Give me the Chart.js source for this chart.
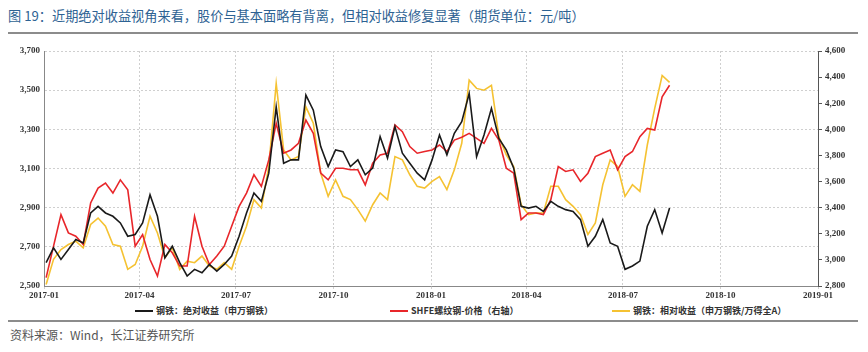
<!DOCTYPE html>
<html>
<head>
<meta charset="utf-8">
<script src="https://cdn.jsdelivr.net/npm/chart.js@4"></script>
<style>
  body { margin: 0; background: #fff; width: 868px; height: 352px; overflow: hidden; position: relative; font-family: "Noto Sans CJK SC", sans-serif; }
  #title { position: absolute; left: 8px; top: 6px; font-size: 13.2px; color: #2d6293; white-space: nowrap; }
  .rule { position: absolute; left: 8px; right: 10px; height: 2px; background: #8c8c8c; }
  #box { position: absolute; left: 0; top: 40px; width: 868px; height: 262px; }
  #src { position: absolute; left: 10px; top: 326px; font-size: 12px; color: #555; }
  .lg { position: absolute; top: 304px; height: 14px; font-size: 9px; font-weight: bold; color: #333; white-space: nowrap; line-height: 14px; }
  .lg i { display: inline-block; width: 18px; height: 2px; vertical-align: middle; margin-right: 3px; position: relative; top: -1px; }
</style>
</head>
<body>
<div id="title">图 19：近期绝对收益视角来看，股价与基本面略有背离，但相对收益修复显著（期货单位：元/吨）</div>
<div class="rule" style="top:32px"></div>
<div id="box"><canvas id="chart"></canvas></div>
<div id="legend"></div>
<div class="rule" style="top:320px"></div>
<div id="src">资料来源：Wind，长江证券研究所</div>

<script>
// weekly readings
const dates = [
  '2017-01-03','2017-01-10','2017-01-17','2017-01-24','2017-01-31','2017-02-07','2017-02-14','2017-02-21','2017-02-28','2017-03-07',
  '2017-03-14','2017-03-21','2017-03-28','2017-04-04','2017-04-11','2017-04-18','2017-04-25','2017-05-02','2017-05-09','2017-05-16',
  '2017-05-23','2017-05-30','2017-06-06','2017-06-13','2017-06-20','2017-06-27','2017-07-04','2017-07-11','2017-07-18','2017-07-25',
  '2017-08-01','2017-08-08','2017-08-15','2017-08-22','2017-08-29','2017-09-05','2017-09-12','2017-09-19','2017-09-26','2017-10-03',
  '2017-10-10','2017-10-17','2017-10-24','2017-10-31','2017-11-07','2017-11-14','2017-11-21','2017-11-28','2017-12-05','2017-12-12',
  '2017-12-19','2017-12-26','2018-01-02','2018-01-09','2018-01-16','2018-01-23','2018-01-30','2018-02-06','2018-02-13','2018-02-20',
  '2018-02-27','2018-03-06','2018-03-13','2018-03-20','2018-03-27','2018-04-03','2018-04-10','2018-04-17','2018-04-24','2018-05-01',
  '2018-05-08','2018-05-15','2018-05-22','2018-05-29','2018-06-05','2018-06-12','2018-06-19','2018-06-26','2018-07-03','2018-07-10',
  '2018-07-17','2018-07-24','2018-07-31','2018-08-07','2018-08-14'
];

// 钢铁：绝对收益（申万钢铁）
const absReturn = [
  2619,2695,2636,2686,2737,2720,2873,2907,2873,2856,2822,2754,2763,2822,2966,2856,2644,2703,2619,2551,
  2585,2568,2610,2576,2610,2653,2754,2873,2975,2932,3076,3415,3127,3144,3144,3475,3398,3212,3110,3195,
  3186,3110,3144,3068,3102,3263,3153,3314,3178,3127,3076,3042,3144,3271,3170,3280,3339,3483,3161,3271,
  3407,3254,3195,3102,2907,2898,2907,2881,2932,2907,2890,2881,2839,2703,2754,2839,2720,2703,2585,2602,
  2627,2805,2890,2771,2898
];

// SHFE螺纹钢-价格（右轴）
const rebar = [
  2864,3105,3347,3207,3181,3118,3436,3550,3588,3512,3613,3537,3105,3194,3003,2876,3118,3054,2953,2953,
  3334,3105,2965,3029,3105,3258,3410,3512,3652,3563,3766,4046,3817,3842,3893,4071,3969,3664,3613,3702,
  3702,3690,3690,3575,3741,3804,3817,4033,3982,3868,3817,3830,3842,3880,3830,3918,3939,3969,3931,3893,
  4007,3918,3702,3664,3308,3359,3359,3347,3461,3715,3677,3690,3601,3664,3791,3817,3842,3690,3791,3830,
  3944,4007,3995,4249,4338
];

// 钢铁：相对收益（申万钢铁/万得全A）
const relReturn = [
  2508,2636,2686,2712,2729,2695,2814,2847,2805,2712,2703,2585,2610,2703,2856,2771,2644,2695,2585,2627,
  2619,2653,2602,2585,2619,2585,2703,2805,2941,2898,3110,3534,3195,3144,3161,3415,3331,3076,2958,3042,
  2958,2941,2890,2831,2915,2975,2941,3161,3144,3068,3009,3000,3034,3059,2992,3093,3229,3551,3509,3500,
  3525,3263,3170,3110,2915,2864,2873,2873,3009,3009,2941,2907,2864,2763,2822,3017,3144,3110,2958,3017,
  2983,3220,3407,3575,3540
];

const tickDates = ['2017-01-01','2017-04-01','2017-07-01','2017-10-01','2018-01-01','2018-04-01','2018-07-01','2018-10-01','2019-01-01'];
const tickLabels = ['2017-01','2017-04','2017-07','2017-10','2018-01','2018-04','2018-07','2018-10','2019-01'];

const t0 = Date.parse('2017-01-01');
const toDay = d => Math.round((Date.parse(d) - t0) / 86400000);
const tickDays = tickDates.map(toDay);
const pts = arr => arr.map((v, i) => ({ x: toDay(dates[i]), y: v }));

const axisFont = { family: 'Liberation Serif', size: 9, weight: 'bold' };
const fmt = v => v.toLocaleString('en-US');

const chart = new Chart(document.getElementById('chart'), {
  type: 'line',
  data: {
    datasets: [
      { label: '钢铁：绝对收益（申万钢铁）', data: pts(absReturn), borderColor: '#1a1a1a', backgroundColor: '#1a1a1a', yAxisID: 'y' },
      { label: 'SHFE螺纹钢-价格（右轴）', data: pts(rebar), borderColor: '#e8262a', backgroundColor: '#e8262a', yAxisID: 'y1' },
      { label: '钢铁：相对收益（申万钢铁/万得全A）', data: pts(relReturn), borderColor: '#f5c232', backgroundColor: '#f5c232', yAxisID: 'y' }
    ]
  },
  options: {
    responsive: true,
    maintainAspectRatio: false,
    animation: false,
    layout: { padding: { top: 11, bottom: 0 } },
    elements: {
      point: { radius: 0 },
      line: { borderWidth: 1.6, tension: 0 }
    },
    scales: {
      x: {
        type: 'linear',
        min: 0,
        max: 730,
        afterBuildTicks: s => { s.ticks = tickDays.map(v => ({ value: v })); },
        afterFit: s => { s.height = 16; },
        ticks: {
          autoSkip: false,
          maxRotation: 0,
          padding: 1,
          color: '#333',
          font: axisFont,
          callback: v => tickLabels[tickDays.indexOf(v)] || ''
        },
        grid: { color: '#cfcfcf', tickLength: 3 },
        border: { color: '#888', dash: [2, 2] }
      },
      y: {
        position: 'left',
        min: 2500,
        max: 3700,
        afterFit: s => { s.width = 44; },
        ticks: { stepSize: 200, color: '#333', font: axisFont, padding: 4, callback: fmt },
        grid: { color: '#cfcfcf', drawTicks: false },
        border: { color: '#888', dash: [2, 2] }
      },
      y1: {
        position: 'right',
        min: 2800,
        max: 4600,
        afterFit: s => { s.width = 50; },
        ticks: { stepSize: 200, color: '#333', font: axisFont, padding: 3, callback: fmt },
        grid: { drawOnChartArea: false, color: '#555', tickLength: 4 },
        border: { color: '#555' }
      }
    },
    plugins: {
      legend: { display: false },
      tooltip: { enabled: false }
    }
  }
});

// legend laid out like the report: three items spread along one row
const legendLeft = [135, 390, 612];
const legendBox = document.getElementById('legend');
chart.data.datasets.forEach((ds, i) => {
  const item = document.createElement('div');
  item.className = 'lg';
  item.style.left = legendLeft[i] + 'px';
  item.innerHTML = '<i style="background:' + ds.borderColor + '"></i>' + ds.label;
  legendBox.appendChild(item);
});
</script>
</body>
</html>
